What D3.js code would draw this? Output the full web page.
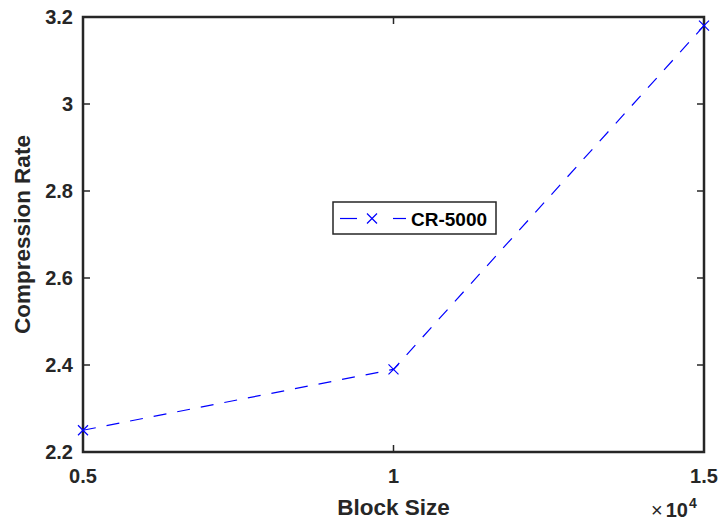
<!DOCTYPE html>
<html>
<head>
<meta charset="utf-8">
<script src="https://cdn.jsdelivr.net/npm/d3@7"></script>
<style>
  html, body { margin: 0; padding: 0; background: #fff; }
  svg { display: block; font-family: "Liberation Sans", Arial, sans-serif; }
</style>
</head>
<body>
<svg id="chart" width="718" height="520"></svg>
<script>
// Compression rate measured at each block size
const blockSizes = [5000, 10000, 15000];
const compressionRates = [2.25, 2.39, 3.18];
const seriesName = "CR-5000";

const xTicks = [5000, 10000, 15000];
const xTickLabels = ["0.5", "1", "1.5"];
const yTicks = [2.2, 2.4, 2.6, 2.8, 3, 3.2];
const yTickLabels = ["2.2", "2.4", "2.6", "2.8", "3", "3.2"];

const W = 718, H = 520;
const m = { left: 83, right: 14, top: 17, bottom: 68 };
const axisColor = "#262626";

const svg = d3.select("#chart");
const x = d3.scaleLinear().domain([5000, 15000]).range([m.left, W - m.right]);
const y = d3.scaleLinear().domain([2.2, 3.2]).range([H - m.bottom, m.top]);

const x0 = x.range()[0], x1 = x.range()[1];
const y0 = y.range()[0], y1 = y.range()[1];
const tickLen = 7;

// Ticks on all four sides, pointing inward
const tickG = svg.append("g").attr("stroke", axisColor).attr("stroke-width", 1.5);
yTicks.forEach(v => {
  tickG.append("line").attr("x1", x0).attr("x2", x0 + tickLen).attr("y1", y(v)).attr("y2", y(v));
  tickG.append("line").attr("x1", x1).attr("x2", x1 - tickLen).attr("y1", y(v)).attr("y2", y(v));
});
xTicks.forEach(v => {
  tickG.append("line").attr("x1", x(v)).attr("x2", x(v)).attr("y1", y0).attr("y2", y0 - tickLen);
  tickG.append("line").attr("x1", x(v)).attr("x2", x(v)).attr("y1", y1).attr("y2", y1 + tickLen);
});

// Axes box
svg.append("rect")
  .attr("x", x0).attr("y", y1)
  .attr("width", x1 - x0).attr("height", y0 - y1)
  .attr("fill", "none").attr("stroke", axisColor).attr("stroke-width", 2.5);

// Tick labels
const lblStyle = sel => sel.attr("fill", axisColor).attr("font-weight", "bold").attr("font-size", 20);
yTicks.forEach((v, i) => {
  svg.append("text").call(lblStyle)
    .attr("x", x0 - 10).attr("y", y(v)).attr("dy", "0.36em")
    .attr("text-anchor", "end").text(yTickLabels[i]);
});
xTicks.forEach((v, i) => {
  svg.append("text").call(lblStyle)
    .attr("x", x(v)).attr("y", y0 + 31)
    .attr("text-anchor", "middle").text(xTickLabels[i]);
});

// Exponent label for the x axis
const expo = svg.append("text").call(lblStyle).attr("font-size", 20)
  .attr("x", 651).attr("y", 517).attr("text-anchor", "start");
expo.append("tspan").attr("font-weight", "normal").text("\u00D7");
expo.append("tspan").attr("dx", 3).attr("font-weight", "bold").text("10");
expo.append("tspan").attr("dx", 1).attr("font-size", 14).attr("font-weight", "bold").attr("dy", -9).text("4");

// Axis titles
svg.append("text").call(lblStyle).attr("font-size", 22.5)
  .attr("x", (x0 + x1) / 2).attr("y", 515)
  .attr("text-anchor", "middle").text("Block Size");
svg.append("text").call(lblStyle).attr("font-size", 22.5)
  .attr("transform", `translate(30,${(y0 + y1) / 2}) rotate(-90)`)
  .attr("text-anchor", "middle").text("Compression Rate");

// Data line
const blue = "#0000ff";
const pts = blockSizes.map((b, i) => [x(b), y(compressionRates[i])]);
svg.append("path")
  .attr("d", d3.line()(pts))
  .attr("fill", "none").attr("stroke", blue)
  .attr("stroke-width", 1.2).attr("stroke-dasharray", "13,11");

function cross(g, cx, cy, r) {
  g.append("path")
    .attr("d", `M${cx - r},${cy - r}L${cx + r},${cy + r}M${cx - r},${cy + r}L${cx + r},${cy - r}`)
    .attr("stroke", blue).attr("stroke-width", 1.2).attr("fill", "none");
}
const markG = svg.append("g");
pts.forEach(p => cross(markG, p[0], p[1], 5));

// Legend
const lg = svg.append("g");
lg.append("rect").attr("x", 333).attr("y", 202).attr("width", 163).attr("height", 32)
  .attr("fill", "#fff").attr("stroke", axisColor).attr("stroke-width", 1.5);
lg.append("line").attr("x1", 340).attr("x2", 357).attr("y1", 218.5).attr("y2", 218.5)
  .attr("stroke", blue).attr("stroke-width", 1.2);
lg.append("line").attr("x1", 393).attr("x2", 406).attr("y1", 218.5).attr("y2", 218.5)
  .attr("stroke", blue).attr("stroke-width", 1.2);
cross(lg, 372, 218.5, 5);
lg.append("text").attr("x", 411).attr("y", 225.5)
  .attr("font-size", 19).attr("font-weight", "bold").attr("fill", "#000")
  .text(seriesName);
</script>
</body>
</html>
